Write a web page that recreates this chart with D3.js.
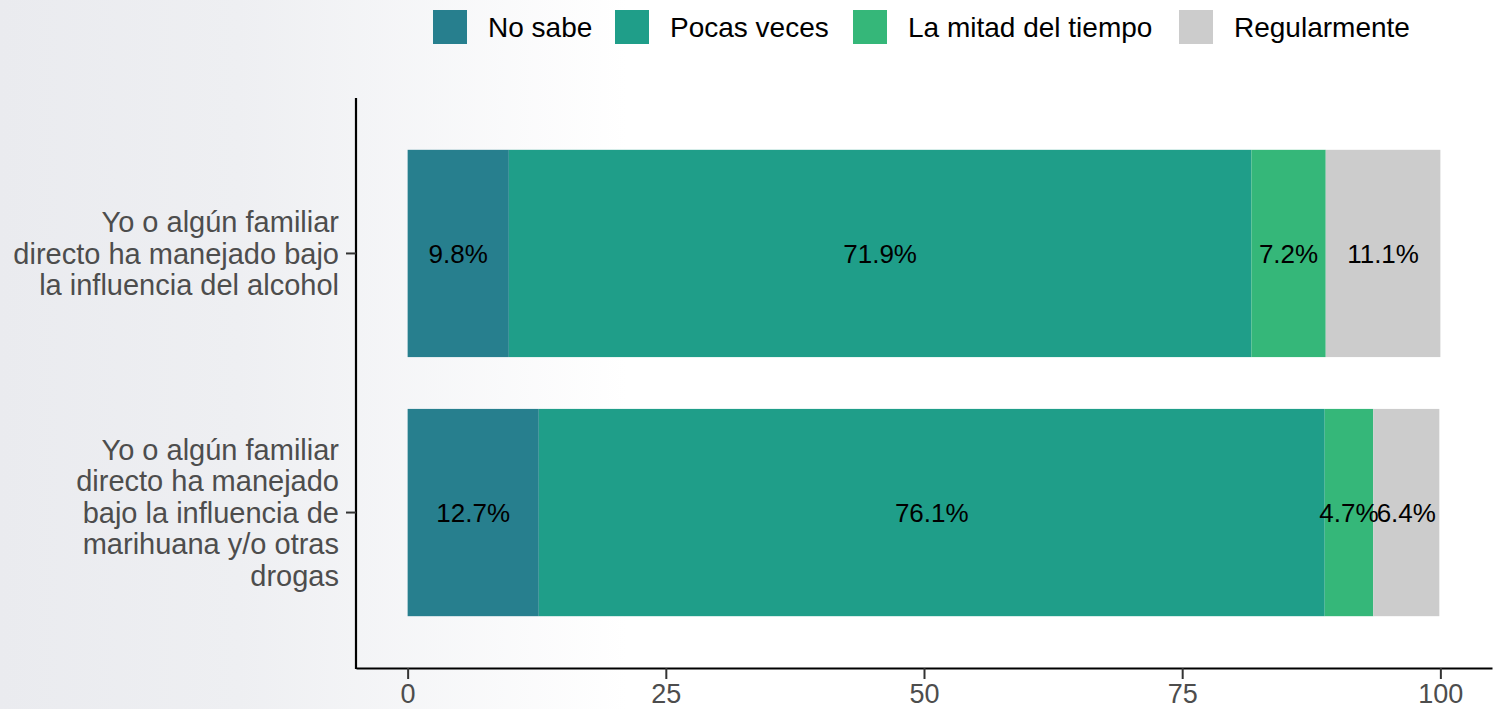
<!DOCTYPE html>
<html>
<head>
<meta charset="utf-8">
<script src="https://cdn.jsdelivr.net/npm/d3@7"></script>
<style>
  body { margin: 0; background: #fff; }
  svg { display: block; font-family: "Liberation Sans", Arial, sans-serif; }
</style>
</head>
<body>
<svg id="chart" width="1493" height="709"></svg>
<script>
// data
var categories = [
  ["Yo o algún familiar", "directo ha manejado bajo", "la influencia del alcohol"],
  ["Yo o algún familiar", "directo ha manejado", "bajo la influencia de", "marihuana y/o otras", "drogas"]
];
var seriesNames = ["No sabe", "Pocas veces", "La mitad del tiempo", "Regularmente"];
var seriesColors = ["#277f8e", "#1f9e89", "#35b779", "#cccccc"];
var noSabe = [9.8, 12.7];
var pocasVeces = [71.9, 76.1];
var laMitad = [7.2, 4.7];
var regularmente = [11.1, 6.4];
var xTicks = [0, 25, 50, 75, 100];

var svg = d3.select("#chart");
var W = 1493, H = 709;
var margin = {left: 356, right: 1, top: 98, bottom: 41};

// background gradient
var grad = svg.append("defs").append("linearGradient")
  .attr("id", "bg").attr("x1", "0").attr("x2", "1").attr("y1", "0").attr("y2", "0");
grad.append("stop").attr("offset", "0").attr("stop-color", "#eaebef");
grad.append("stop").attr("offset", "0.16").attr("stop-color", "#eeeff2");
grad.append("stop").attr("offset", "0.42").attr("stop-color", "#ffffff");
grad.append("stop").attr("offset", "1").attr("stop-color", "#ffffff");
svg.append("rect").attr("width", W).attr("height", H).attr("fill", "url(#bg)");

var rows = categories.map(function(c, i) {
  return {i: i, vals: [noSabe[i], pocasVeces[i], laMitad[i], regularmente[i]]};
});

var x = d3.scaleLinear().domain([-5, 105]).range([margin.left, W - margin.right]);
// ggplot-style discrete range: 0.4 .. 2.6
var yPos = d3.scaleLinear().domain([0.4, 2.6]).range([margin.top, H - margin.bottom]);
var bandH = yPos(1.4) - yPos(0.6);

var g = svg.append("g");
rows.forEach(function(r) {
  var cum = 0;
  var yc = yPos(r.i + 1);
  r.vals.forEach(function(v, k) {
    var x0 = cum, x1 = cum + v;
    cum = x1;
    g.append("rect")
      .attr("x", x(x0)).attr("y", yc - bandH / 2)
      .attr("width", x(x1) - x(x0)).attr("height", bandH)
      .attr("fill", seriesColors[k]);
  });
  cum = 0;
  r.vals.forEach(function(v) {
    var x0 = cum, x1 = cum + v;
    cum = x1;
    g.append("text")
      .attr("x", (x(x0) + x(x1)) / 2).attr("y", yc)
      .attr("dy", "0.36em").attr("text-anchor", "middle")
      .attr("font-size", 26).attr("fill", "#000")
      .text(v.toFixed(1) + "%");
  });
});

// x axis
var xAxis = svg.append("g").attr("transform", "translate(0," + (H - margin.bottom) + ")")
  .call(d3.axisBottom(x).tickValues(xTicks).tickSize(11).tickPadding(5).tickSizeOuter(0));
xAxis.select(".domain").attr("stroke", "#000").attr("stroke-width", 2.2);
xAxis.selectAll(".tick line").attr("stroke", "#333").attr("stroke-width", 2);
xAxis.selectAll(".tick text").attr("font-size", 27).attr("fill", "#4d4d4d")
  .attr("font-family", "Liberation Sans, Arial, sans-serif");

// y axis
svg.append("line").attr("x1", margin.left).attr("x2", margin.left)
  .attr("y1", margin.top).attr("y2", H - margin.bottom + 1)
  .attr("stroke", "#000").attr("stroke-width", 2.2);
categories.forEach(function(lines, i) {
  var yc = yPos(i + 1);
  svg.append("line").attr("x1", margin.left - 10).attr("x2", margin.left)
    .attr("y1", yc).attr("y2", yc).attr("stroke", "#333").attr("stroke-width", 2);
  var lh = 31.5;
  var t = svg.append("text").attr("text-anchor", "end")
    .attr("font-size", 29).attr("fill", "#4d4d4d");
  lines.forEach(function(l, j) {
    t.append("tspan").attr("x", 339)
      .attr("y", yc + (j - (lines.length - 1) / 2) * lh)
      .attr("dy", "0.36em").text(l);
  });
});

// legend
var legX = [433, 615, 853, 1179];
seriesNames.forEach(function(n, k) {
  svg.append("rect").attr("x", legX[k]).attr("y", 10).attr("width", 34).attr("height", 34)
    .attr("fill", seriesColors[k]);
  svg.append("text").attr("x", legX[k] + 55).attr("y", 27).attr("dy", "0.36em")
    .attr("font-size", 28).attr("fill", "#000").text(n);
});
</script>
</body>
</html>
